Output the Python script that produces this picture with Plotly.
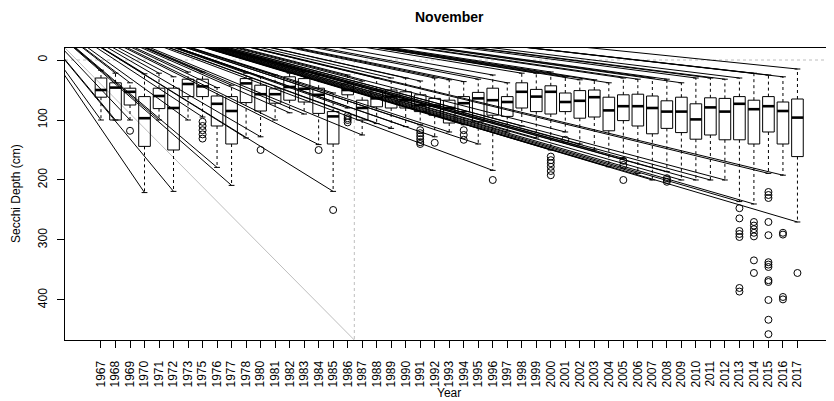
import plotly.graph_objects as go

# ---------------- data ----------------
years = [1967, 1968, 1969, 1970, 1971, 1972, 1973, 1975, 1976, 1977, 1978, 1980,
         1981, 1982, 1983, 1984, 1985, 1986, 1987, 1988, 1989, 1990, 1991, 1992,
         1993, 1994, 1995, 1996, 1997, 1998, 1999, 2000, 2001, 2002, 2003, 2004,
         2005, 2006, 2007, 2008, 2009, 2010, 2011, 2012, 2013, 2014, 2015, 2016, 2017]

# whisker end (shallow), Q1, median, Q3, whisker end (deep)
w_lo = [17, 22, 38, 23, 22, 28, 20, 20, 46, 42, 22, 28,
        25, 22, 20, 25, 55, 25, 35, 30, 30, 30, 35, 30,
        33, 36, 32, 25, 38, 22, 22, 20, 28, 33, 33, 38,
        30, 32, 30, 32, 38, 30, 30, 32, 30, 22, 25, 28, 15]
q1 = [30, 38, 47, 61, 47, 47, 32, 32, 60, 61, 31, 42,
      48, 28, 31, 47, 86, 40, 67, 50, 50, 53, 58, 64,
      67, 61, 54, 47, 61, 38, 49, 43, 55, 51, 50, 62,
      58, 57, 60, 68, 62, 73, 63, 64, 61, 67, 61, 70, 65]
med = [50, 46, 53, 97, 60, 80, 40, 44, 73, 85, 39, 57,
       57, 45, 48, 58, 94, 50, 80, 64, 61, 67, 75, 76,
       80, 72, 64, 67, 70, 53, 61, 53, 70, 68, 62, 84,
       77, 77, 80, 86, 86, 99, 79, 86, 73, 82, 77, 85, 96]
q3 = [62, 100, 75, 144, 81, 150, 61, 61, 110, 140, 71, 85,
      72, 67, 70, 89, 140, 58, 100, 78, 80, 80, 86, 92,
      105, 86, 103, 92, 94, 80, 86, 90, 86, 97, 95, 118,
      101, 110, 123, 114, 121, 132, 125, 133, 133, 140, 120, 140, 161]
w_hi = [100, 100, 100, 221, 100, 219, 100, 95, 179, 209, 130, 128,
        100, 88, 90, 141, 219, 80, 125, 106, 114, 111, 108, 128,
        120, 108, 140, 184, 120, 110, 130, 150, 120, 140, 150, 178,
        164, 189, 200, 186, 200, 200, 200, 200, 236, 240, 189, 192, 270]

# outliers: year -> depths
outliers = {
    1969: [118],
    1975: [103, 110, 117, 124, 131],
    1980: [150],
    1984: [150],
    1985: [250],
    1986: [93, 97, 100, 104],
    1991: [117, 122, 127, 132, 137, 140],
    1992: [138],
    1994: [117, 125, 133],
    1996: [200],
    2000: [161, 167, 172, 178, 185, 192],
    2001: [133],
    2005: [168, 175, 200],
    2008: [197, 200, 203],
    2013: [247, 264, 285, 290, 295, 380, 386],
    2014: [270, 276, 282, 288, 294, 334, 355],
    2015: [220, 225, 230, 270, 292, 337, 341, 345, 367, 370, 400, 433, 457],
    2016: [288, 291, 395, 399],
    2017: [355],
}

y_ticks = [0, 100, 200, 300, 400]
fan_origin = (-5.6, -120)      # common start point of the stray black lines
ref_break_x = 18.46            # grey reference lines
ref_h = 0

# ---------------- build ----------------
n = len(years)
pos = list(range(1, n + 1))
X_RANGE = [-1.48, 51.45]
Y_RANGE = [466.7, -20]

# page offset of the plot div (body margin) -> work in figure pixels
OFF = 8
FW, FH = 834 - OFF, 401 - OFF
ML, MR, MT, MB = 65 - OFF, 1, 48 - OFF, 61

fig = go.Figure()
def add_lines(xs, ys, color="black", width=1, dash="solid"):
    fig.add_trace(go.Scatter(x=xs, y=ys, mode="lines", hoverinfo="skip",
                             line=dict(color=color, width=width, dash=dash),
                             showlegend=False))

# grey reference lines
add_lines([X_RANGE[0], X_RANGE[1]], [ref_h, ref_h], color="#bebebe", dash="3px,3px")
add_lines([ref_break_x, ref_break_x], [ref_h, Y_RANGE[0]], color="#bebebe", dash="3px,3px")
add_lines([X_RANGE[0], ref_break_x], [Y_RANGE[1], Y_RANGE[0]], color="#bebebe")

hw, cw = 0.4, 0.2
bx, by, mx, my, wx, wy, cx, cy, fx, fy = [], [], [], [], [], [], [], [], [], []
for i, p in enumerate(pos):
    bx += [p - hw, p + hw, p + hw, p - hw, p - hw, None]
    by += [q1[i], q1[i], q3[i], q3[i], q1[i], None]
    mx += [p - hw, p + hw, None]
    my += [med[i], med[i], None]
    wx += [p, p, None, p, p, None]
    wy += [q1[i], w_lo[i], None, q3[i], w_hi[i], None]
    cx += [p - cw, p + cw, None, p - cw, p + cw, None]
    cy += [w_lo[i], w_lo[i], None, w_hi[i], w_hi[i], None]
    fx += [fan_origin[0], p, None, fan_origin[0], p, None]
    fy += [fan_origin[1], w_lo[i], None, fan_origin[1], w_hi[i], None]

add_lines(wx, wy, dash="3px,3px")
add_lines(cx, cy)
add_lines(bx, by)
add_lines(mx, my, width=2.6)
add_lines(fx, fy)

ox, oy = [], []
for y, vals in outliers.items():
    p = pos[years.index(y)]
    ox += [p] * len(vals)
    oy += vals
fig.add_trace(go.Scatter(x=ox, y=oy, mode="markers", hoverinfo="skip", showlegend=False,
                         marker=dict(symbol="circle-open", size=7, color="black",
                                     line=dict(width=1, color="black"))))

font = dict(family="Liberation Sans, Arial, sans-serif", size=12, color="black")
pw, ph = FW - ML - MR, FH - MT - MB

def ann(text, page_x, page_y, size=12, angle=0):
    fx_ = page_x - OFF
    fy_ = page_y - OFF
    return dict(text=text, x=(fx_ - ML) / pw, y=(FH - MB - fy_) / ph,
                xref="paper", yref="paper", xanchor="center", yanchor="middle",
                textangle=angle, showarrow=False,
                font=dict(family=font["family"], size=size, color="black"))

fig.update_layout(
    width=FW, height=FH,
    margin=dict(l=ML, r=MR, t=MT, b=MB),
    paper_bgcolor="white", plot_bgcolor="white",
    font=font,
    xaxis=dict(range=X_RANGE, tickmode="array", tickvals=pos,
               ticktext=[str(y) for y in years], tickangle=-90,
               ticks="outside", ticklen=7, tickcolor="black", tickwidth=1,
               showline=True, mirror=True, linecolor="black", linewidth=1,
               showgrid=False, zeroline=False, tickfont=font, ticklabelstandoff=8,
               automargin=False),
    yaxis=dict(range=Y_RANGE, tickmode="array", tickvals=y_ticks,
               ticktext=[str(v) for v in y_ticks], tickangle=-90,
               ticks="outside", ticklen=7, tickcolor="black", tickwidth=1,
               showline=True, mirror=True, linecolor="black", linewidth=1,
               showgrid=False, zeroline=False, tickfont=font, ticklabelstandoff=5,
               automargin=False),
    annotations=[
        ann("<b>November</b>", 449, 17, size=14),
        ann("Year", 449, 393),
        ann("Secchi Depth (cm)", 16, 194, angle=-90),
    ],
)
fig.write_html("out.html")
